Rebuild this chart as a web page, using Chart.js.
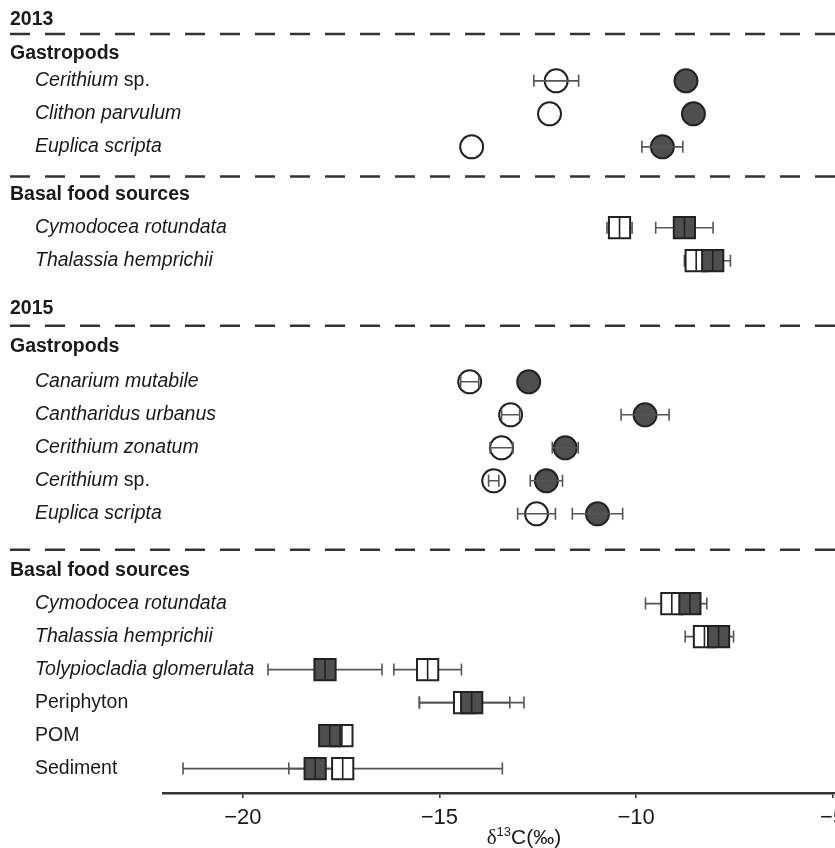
<!DOCTYPE html>
<html>
<head>
<meta charset="utf-8">
<script src="https://cdn.jsdelivr.net/npm/chart.js@4.4.0/dist/chart.umd.min.js"></script>
<style>
  html, body { margin: 0; padding: 0; background: #fff; }
  #wrap { width: 835px; height: 848px; position: relative; }
</style>
</head>
<body>
<div id="wrap"><canvas id="chart"></canvas></div>
<script>
// d13C values (‰). open = white markers, fill = dark markers
const labels13G = ['<i>Cerithium</i> sp.', '<i>Clithon parvulum</i>', '<i>Euplica scripta</i>'];
const open13G = [-12.03, -12.2, -14.18];
const openSd13G = [0.57, 0, 0];
const fill13G = [-8.73, -8.54, -9.33];
const fillSd13G = [0, 0, 0.52];

const labels13B = ['<i>Cymodocea rotundata</i>', '<i>Thalassia hemprichii</i>'];
const open13B = [-10.42, -8.47];
const openSd13B = [0.32, 0.3];
const fill13B = [-8.77, -8.05];
const fillSd13B = [0.73, 0.45];

const labels15G = ['<i>Canarium mutabile</i>', '<i>Cantharidus urbanus</i>', '<i>Cerithium zonatum</i>', '<i>Cerithium</i> sp.', '<i>Euplica scripta</i>'];
const open15G = [-14.23, -13.19, -13.42, -13.62, -12.53];
const openSd15G = [0.23, 0.23, 0.29, 0.13, 0.48];
const fill15G = [-12.73, -9.77, -11.8, -12.28, -10.98];
const fillSd15G = [0, 0.61, 0.33, 0.41, 0.64];

const labels15B = ['<i>Cymodocea rotundata</i>', '<i>Thalassia hemprichii</i>', '<i>Tolypiocladia glomerulata</i>', 'Periphyton', 'POM', 'Sediment'];
const open15B = [-9.09, -8.26, -15.3, -14.36, -17.48, -17.46];
const openSd15B = [0.67, 0.49, 0.86, 1.15, 0.16, 4.06];
const fill15B = [-8.63, -7.9, -17.91, -14.18, -17.79, -18.16];
const fillSd15B = [0.43, 0.38, 1.45, 1.33, 0.12, 0.67];

const xTicks = [-20, -15, -10, -5];

// vertical layout in row units: [kind, text / group key, gap before]
const layout = [
  ['year', '2013', 0.58],
  ['dash', '', 0.45],
  ['group', 'Gastropods', 0.6],
  ['items', '13G', 0.82],
  ['dash', '', 0.9],
  ['group', 'Basal food sources', 0.55],
  ['items', '13B', 1.0],
  ['year', '2015', 1.45],
  ['dash', '', 0.52],
  ['group', 'Gastropods', 0.63],
  ['items', '15G', 1.07],
  ['dash', '', 1.09],
  ['group', 'Basal food sources', 0.63],
  ['items', '15B', 1.0]
];
const yMax = 24.03;

const groups = {
  '13G': { labels: labels13G, open: open13G, openSd: openSd13G, fill: fill13G, fillSd: fillSd13G, shape: 'circle' },
  '13B': { labels: labels13B, open: open13B, openSd: openSd13B, fill: fill13B, fillSd: fillSd13B, shape: 'rect' },
  '15G': { labels: labels15G, open: open15G, openSd: openSd15G, fill: fill15G, fillSd: fillSd15G, shape: 'circle' },
  '15B': { labels: labels15B, open: open15B, openSd: openSd15B, fill: fill15B, fillSd: fillSd15B, shape: 'rect' }
};

// work out row positions
var rows = [];
var pos = 0;
layout.forEach(function (r) {
  pos += r[2];
  if (r[0] === 'items') {
    var g = groups[r[1]];
    g.ys = [];
    g.labels.forEach(function (lab, i) {
      if (i > 0) pos += 1;
      g.ys.push(pos);
      rows.push({ kind: 'item', text: lab, y: pos });
    });
  } else {
    rows.push({ kind: r[0], text: r[1], y: pos });
  }
});

var INK = '#222';
var FILL = '#4f4f4f';
var datasets = [];
Object.keys(groups).forEach(function (k) {
  var g = groups[k];
  var r = g.shape === 'circle' ? 11.5 : 15;
  datasets.push({
    label: k + ' open',
    data: g.open.map(function (v, i) { return { x: v, y: g.ys[i], sd: g.openSd[i] }; }),
    pointStyle: g.shape, pointRadius: r, pointHoverRadius: r,
    backgroundColor: '#fff', borderColor: INK, borderWidth: 2, order: 2
  });
  datasets.push({
    label: k + ' filled',
    data: g.fill.map(function (v, i) { return { x: v, y: g.ys[i], sd: g.fillSd[i] }; }),
    pointStyle: g.shape, pointRadius: r, pointHoverRadius: r,
    backgroundColor: FILL, borderColor: INK, borderWidth: 2, order: 1
  });
});

function whisker(ctx, xs, x0, x1, y) {
  var a = xs.getPixelForValue(x0), b = xs.getPixelForValue(x1);
  ctx.beginPath();
  ctx.moveTo(a, y); ctx.lineTo(b, y);
  ctx.moveTo(a, y - 6); ctx.lineTo(a, y + 6);
  ctx.moveTo(b, y - 6); ctx.lineTo(b, y + 6);
  ctx.stroke();
}

function drawBars(chart, shape) {
  var ctx = chart.ctx, xs = chart.scales.x, ys = chart.scales.y;
  ctx.save();
  ctx.strokeStyle = '#555';
  ctx.lineWidth = 1.6;
  chart.data.datasets.forEach(function (ds) {
    if (ds.pointStyle !== shape) return;
    ds.data.forEach(function (p) {
      if (!p.sd) return;
      whisker(ctx, xs, p.x - p.sd, p.x + p.sd, ys.getPixelForValue(p.y));
    });
  });
  ctx.restore();
}

function drawRich(ctx, str, x, y, size) {
  var parts = str.split(/(<i>.*?<\/i>)/).filter(function (s) { return s.length; });
  parts.forEach(function (s) {
    var it = s.indexOf('<i>') === 0;
    var t = it ? s.slice(3, -4) : s;
    ctx.font = (it ? 'italic ' : '') + size + 'px "Liberation Sans", Arial, sans-serif';
    ctx.fillText(t, x, y);
    x += ctx.measureText(t).width;
  });
}

const decor = {
  id: 'decor',
  beforeDatasetsDraw: function (chart) { drawBars(chart, 'rect'); },
  afterDatasetDraw: function (chart, args) {
    var ds = chart.data.datasets[args.index];
    if (ds.pointStyle !== 'rect') return;
    var ctx = chart.ctx, xs = chart.scales.x, ys = chart.scales.y;
    ctx.save();
    ctx.strokeStyle = INK; ctx.lineWidth = 1.6;
    ds.data.forEach(function (p) {
      var px = xs.getPixelForValue(p.x), py = ys.getPixelForValue(p.y);
      ctx.beginPath(); ctx.moveTo(px, py - 10); ctx.lineTo(px, py + 10); ctx.stroke();
    });
    ctx.restore();
  },
  afterDatasetsDraw: function (chart) { drawBars(chart, 'circle'); },
  afterDraw: function (chart) {
    var ctx = chart.ctx, xs = chart.scales.x, ys = chart.scales.y;
    ctx.save();
    ctx.fillStyle = '#1a1a1a';
    ctx.textBaseline = 'middle';
    rows.forEach(function (r) {
      var y = ys.getPixelForValue(r.y);
      if (r.kind === 'dash') {
        ctx.save();
        ctx.strokeStyle = '#333'; ctx.lineWidth = 2.6;
        ctx.setLineDash([20, 15]);
        ctx.beginPath(); ctx.moveTo(10, y); ctx.lineTo(chart.width, y); ctx.stroke();
        ctx.restore();
      } else if (r.kind === 'item') {
        drawRich(ctx, r.text, 35, y, 19.5);
      } else {
        ctx.font = 'bold 19.5px "Liberation Sans", Arial, sans-serif';
        ctx.fillText(r.text, 10, y);
      }
    });
    // x tick labels
    ctx.font = '22px "Liberation Sans", Arial, sans-serif';
    ctx.textAlign = 'center';
    xTicks.forEach(function (v) {
      ctx.fillText('\u2212' + Math.abs(v), xs.getPixelForValue(v), xs.top + 25);
    });
    // axis title  d13C(‰)
    var ty = xs.top + 45;
    var parts = [['\u03b4', '21px "Liberation Serif", serif', 0], ['13', '13px "Liberation Sans", Arial, sans-serif', -6], ['C(\u2030)', '21px "Liberation Sans", Arial, sans-serif', 0]];
    var w = 0;
    parts.forEach(function (p) { ctx.font = p[1]; w += ctx.measureText(p[0]).width; });
    var tx = xs.getPixelForValue(-12.85) - w / 2;
    ctx.textAlign = 'left';
    parts.forEach(function (p) {
      ctx.font = p[1];
      ctx.fillText(p[0], tx, ty + p[2]);
      tx += ctx.measureText(p[0]).width;
    });
    ctx.restore();
  }
};

var ctx = document.getElementById('chart').getContext('2d');
var chart = new Chart(ctx, {
  type: 'scatter',
  data: { datasets: datasets },
  options: {
    responsive: true,
    maintainAspectRatio: false,
    animation: false,
    layout: { autoPadding: false, padding: { left: 163, right: 0, top: 0, bottom: 0 } },
    plugins: { legend: { display: false }, tooltip: { enabled: false } },
    scales: {
      x: {
        type: 'linear', position: 'bottom',
        min: -22.03, max: -4.94,
        afterBuildTicks: function (s) { s.ticks = xTicks.map(function (v) { return { value: v }; }); },
        afterFit: function (s) { s.height = 55; },
        ticks: { display: false },
        grid: { drawOnChartArea: false, drawTicks: true, tickLength: 5, color: '#333', lineWidth: 1.6 },
        border: { display: true, color: '#333', width: 2.6 }
      },
      y: {
        type: 'linear', reverse: true, display: false,
        min: 0, max: yMax
      }
    }
  },
  plugins: [decor]
});
</script>
</body>
</html>
